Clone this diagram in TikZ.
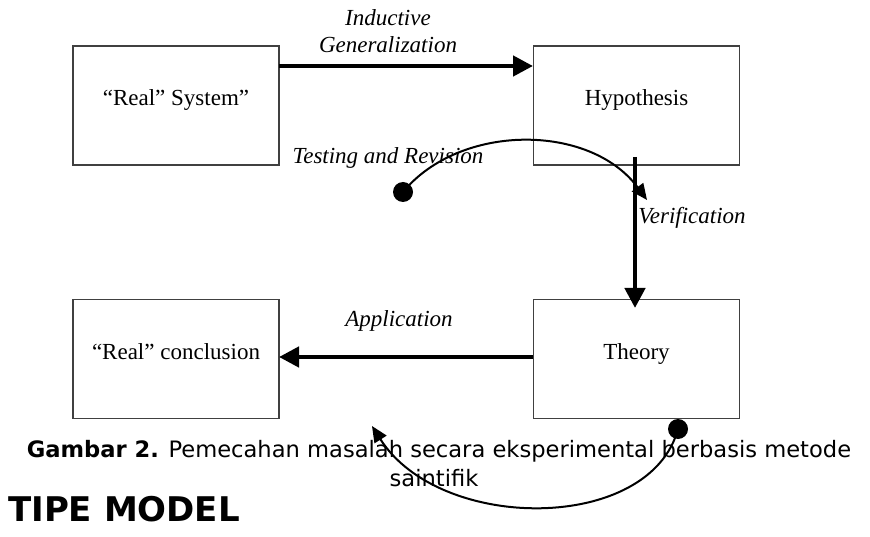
\documentclass[tikz,border=0pt]{standalone}
\usepackage{fontspec}
\setmainfont{Liberation Serif}
\newfontfamily\capfont{DejaVu Sans}
\usetikzlibrary{arrows.meta}
\begin{document}
\begin{tikzpicture}[x=1pt,y=-1pt,
  box/.style={draw=black!75,line width=1.8pt,minimum width=206pt,minimum height=119pt,inner sep=0pt,text height=16pt,text depth=16pt,font=\fontsize{23}{27}\selectfont},
  lbl/.style={font=\fontsize{23}{27}\selectfont\itshape,inner sep=0pt},
  bigarrow/.style={line width=4.5pt,-{Triangle[length=20pt,width=20pt]}},
  arcline/.style={line width=2pt,-{Triangle[length=16pt,width=14pt]}},
  dotstyle/.style={circle,fill=black,minimum size=20pt,inner sep=0pt},
  captext/.style={font=\capfont\fontsize{22.6}{26}\selectfont,inner sep=0pt}]
\useasboundingbox (0,0) rectangle (870,537);
\node[box] (rs) at (176,105.5) {``Real'' System''};
\node[box] (hy) at (636.5,105.5) {Hypothesis};
\node[box] (rc) at (176,359) {``Real'' conclusion};
\node[box] (th) at (636.5,359) {Theory};
\coordinate (a1s) at (279,66);
\coordinate (a1e) at (533,66);
\draw[bigarrow] (a1s) -- (a1e);
\coordinate (a2s) at (635,157);
\coordinate (a2e) at (635,308);
\draw[bigarrow] (a2s) -- (a2e);
\coordinate (a3s) at (533,357);
\coordinate (a3e) at (279,357);
\draw[bigarrow] (a3s) -- (a3e);
\node[lbl] (l1) at (388,18) {Inductive};
\node[lbl] (l2) at (388,45) {Generalization};
\node[lbl] (l3) at (388,158) {Testing and Revision};
\node[lbl] (l4) at (692,218) {Verification};
\node[lbl] (l5) at (399,321) {Application};
\node[captext] (c1) at (439,451) {\textbf{Gambar 2.} Pemecahan masalah secara eksperimental berbasis metode};
\node[captext] (c2) at (434,478) {saintifik};
\node[font=\capfont\bfseries\fontsize{34}{40}\selectfont,inner sep=0pt,anchor=west] (tm) at (8,509) {TIPE MODEL};
\node[dotstyle] (d1) at (403,192) {};
\coordinate (e1) at (647,200);
\draw[arcline] (d1.center) .. controls (460,123) and (590,123) .. (e1);
\node[dotstyle] (d2) at (678,429) {};
\coordinate (e2) at (372,426);
\draw[arcline] (d2.center) .. controls (650,533) and (440,533) .. (e2);
\end{tikzpicture}
\end{document}
